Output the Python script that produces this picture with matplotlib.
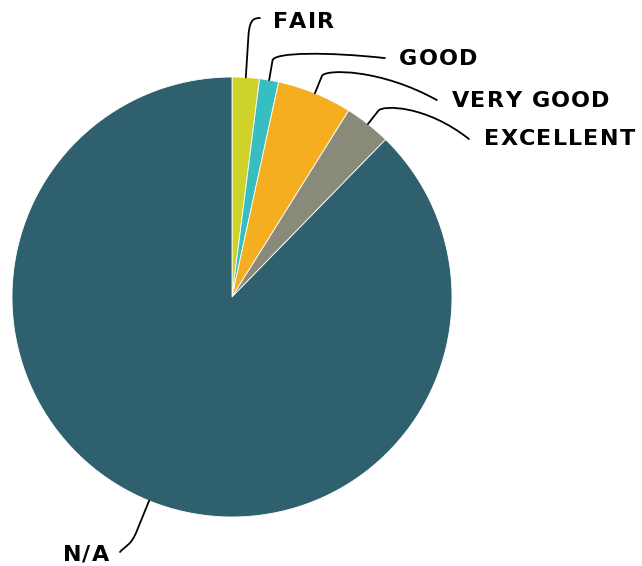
import numpy as np
import matplotlib
matplotlib.use("Agg")
import matplotlib.pyplot as plt
from matplotlib.path import Path
from matplotlib.patches import PathPatch
from matplotlib.font_manager import FontProperties, findfont, get_font

# Share of ratings (percent)
categories = ["FAIR", "GOOD", "VERY GOOD", "EXCELLENT", "N/A"]
values = [2.0, 1.4, 5.5, 3.4, 87.7]
colors = ["#cfd22b", "#37bec1", "#f5ae20", "#8a8a7a", "#2e606e"]

# Label placement: text baseline anchor (data units), leader end, elbow radius
label_pos = [(0.186, 1.221), (0.759, 1.055), (1.0, 0.865), (1.145, 0.691), (-0.559, -1.200)]
line_end = [(0.127, 1.268), (0.695, 1.086), (0.931, 0.895), (1.077, 0.718), (-0.509, -1.159)]
elbow_r = [1.27, 1.13, 1.12, 1.11, 1.22]
aligns = ["left", "left", "left", "left", "right"]

W, H, DPI = 642, 566, 100
FONT_SIZE = 16
LETTER_SPACING_PX = 1.2
R_PX = 220.0
cx, cy = 232.0, 297.0

fig = plt.figure(figsize=(W / DPI, H / DPI), dpi=DPI)
ax = fig.add_axes([0, 0, 1, 1])

wedges, _ = ax.pie(values, colors=colors, startangle=90, counterclock=False,
                   radius=1.0, wedgeprops=dict(edgecolor="white", linewidth=0.6))
ax.set_aspect("equal")
ax.set_xlim(-cx / R_PX, (W - cx) / R_PX)
ax.set_ylim(-(H - cy) / R_PX, cy / R_PX)
ax.axis("off")

prop = FontProperties(family="DejaVu Sans", weight="bold", size=FONT_SIZE)
ft = get_font(findfont(prop))
ft.set_size(FONT_SIZE, DPI)


def advances(s):
    out = []
    for ch in s:
        g = ft.load_char(ord(ch))
        out.append(g.linearHoriAdvance / 65536.0)
    return out


def spaced_text(x, y, s, align):
    adv = advances(s)
    total = sum(adv) + LETTER_SPACING_PX * (len(s) - 1)
    start = x if align == "left" else x - total / R_PX
    off = 0.0
    for ch, a in zip(s, adv):
        if ch != " ":
            ax.text(start + off / R_PX, y, ch, ha="left", va="baseline",
                    fontproperties=prop, color="black")
        off += a + LETTER_SPACING_PX


total = float(sum(values))
cum = 0.0
for i, (cat, v) in enumerate(zip(categories, values)):
    mid = (cum + v / 2) / total * 2 * np.pi
    cum += v
    d = np.array([np.sin(mid), np.cos(mid)])
    p0 = d * 1.0
    e = d * elbow_r[i]
    p3 = np.array(line_end[i])
    a = p0 + 0.7 * (e - p0)
    c2 = np.array([e[0] + 0.5 * (p3[0] - e[0]), e[1]])
    verts = [tuple(p0), tuple(a), tuple(e), tuple(c2), tuple(p3)]
    codes = [Path.MOVETO, Path.LINETO, Path.CURVE4, Path.CURVE4, Path.CURVE4]
    ax.add_patch(PathPatch(Path(verts, codes), fill=False, edgecolor="black",
                           linewidth=1.3, capstyle="round"))
    spaced_text(label_pos[i][0], label_pos[i][1], cat, aligns[i])

fig.savefig("out.png", dpi=DPI)
